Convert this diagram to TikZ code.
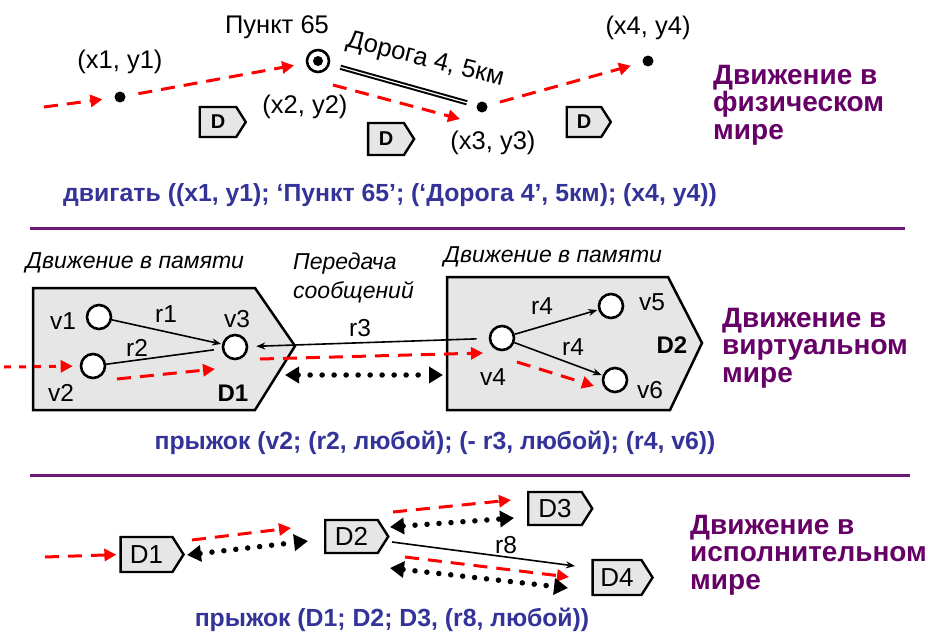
\documentclass[tikz,border=0pt]{standalone}
\usepackage{fontspec}
\setmainfont{Liberation Sans}
\usetikzlibrary{arrows.meta,shapes.symbols}

\definecolor{mvred}{HTML}{FF0000}
\definecolor{mvpurple}{HTML}{660066}
\definecolor{mvblue}{HTML}{333399}
\definecolor{boxgray}{HTML}{E6E6E6}
\definecolor{rulepurple}{HTML}{6A1A74}

\tikzset{
  redpath/.style={draw=mvred, line width=3pt, dash pattern=on 14pt off 9pt,
    -{Triangle[length=12pt,width=12pt]}},
  msgpath/.style={draw=black, line width=5.5pt, line cap=round,
    dash pattern=on 0pt off 12pt,
    {Triangle[length=14pt,width=16pt]}-{Triangle[length=14pt,width=16pt]}},
  thinarrow/.style={draw=black, line width=1.6pt, -{Stealth[length=9pt,width=7pt]}},
  vnode/.style={circle, draw, line width=2.6pt, fill=white, minimum size=24pt, inner sep=0pt},
  dot/.style={circle, fill=black, minimum size=11pt, inner sep=0pt},
  lbl/.style={font=\fontsize{25.5}{28}\selectfont, inner sep=0pt},
  vlbl/.style={font=\fontsize{24.5}{28}\selectfont, inner sep=0pt},
  ilbl/.style={font=\itshape\fontsize{23}{29}\selectfont, inner sep=0pt},
  tagbox/.style={signal, signal to=east, signal pointer angle=115, draw, line width=2.4pt,
    fill=boxgray, inner sep=0pt},
  membox/.style={draw, line width=2.5pt, fill=boxgray, line join=miter},
  world/.style={text=mvpurple, font=\bfseries\fontsize{28}{27.5}\selectfont,
    align=left, anchor=west, inner sep=0pt},
  formula/.style={text=mvblue, font=\bfseries\fontsize{24.8}{28}\selectfont, inner sep=0pt},
  sepline/.style={draw=rulepurple, line width=3pt}
}

\begin{document}
\begin{tikzpicture}[x=1pt,y=-1pt]
\useasboundingbox (0,0) rectangle (928,637);

% ---------------- physical world ----------------
\coordinate (a0) at (44,107);
\node[dot] (x1) at (120,97) {};
\node[vnode, minimum size=22pt] (p65) at (318,61) {};
\node[dot, minimum size=10pt] (p65c) at (318,61) {};
\node[dot] (x3) at (482,107) {};
\node[dot] (x4) at (648,61) {};

\node[lbl] (lx1) at (120,62) {(x1, y1)};
\node[lbl] (lp65) at (277,27) {Пункт 65};
\node[lbl] (lx2) at (305,107) {(x2, y2)};
\node[lbl] (lx3) at (493,143) {(x3, y3)};
\node[lbl] (lx4) at (648,28) {(x4, y4)};

% road between the point and (x3, y3)
\draw[double=white, double distance=1.2pt, line width=2pt, shorten <=11pt, shorten >=10pt]
  (p65) -- (x3);
\node[lbl, rotate=-14] (road) at (425,60) {Дорога 4, 5км};

\draw[redpath, shorten >=12pt] (a0) -- (x1);
\draw[redpath, shorten <=13pt, shorten >=12pt] (x1) -- (p65);
\coordinate (b1) at (333,85);
\coordinate (b2) at (460,119);
\draw[redpath] (b1) -- (b2);
\draw[redpath, shorten <=13pt, shorten >=12pt] (x3) -- (x4);

\node[tagbox, minimum width=46pt, minimum height=30pt, font=\bfseries\fontsize{20}{20}\selectfont]
  (t1) at (218,122) {D};
\node[tagbox, minimum width=46pt, minimum height=32pt, font=\bfseries\fontsize{20}{20}\selectfont]
  (t2) at (386,139) {D};
\node[tagbox, minimum width=44pt, minimum height=30pt, font=\bfseries\fontsize{20}{20}\selectfont]
  (t3) at (584,122) {D};

\node[world] (w1) at (713,105) {Движение в\\физическом\\мире};
\node[formula] (f1) at (390,195)
  {двигать ((x1, y1); ‘Пункт 65’; (‘Дорога 4’, 5км); (x4, y4))};

\draw[sepline] (30,228) -- (905,228);

% ---------------- virtual world ----------------
\draw[membox] (33,288) -- (255,288) -- (295,346) -- (255,410) -- (33,410) -- cycle;
\draw[membox] (447,277) -- (668,277) -- (702,343) -- (670,410) -- (447,410) -- cycle;

\node[ilbl] (m1) at (135,263) {Движение в памяти};
\node[ilbl] (m2) at (553,257) {Движение в памяти};
\node[ilbl, align=left, anchor=west] (msg) at (293,278) {Передача\\сообщений};

\node[vnode] (v1) at (99,317) {};
\node[vnode] (v2) at (93,366) {};
\node[vnode] (v3) at (235,347) {};
\node[vnode] (v4) at (502,338) {};
\node[vnode] (v5) at (611,306) {};
\node[vnode] (v6) at (615,380) {};

\node[vlbl] (lv1) at (63,321) {v1};
\node[vlbl] (lv2) at (61,393) {v2};
\node[vlbl] (lv3) at (237,319) {v3};
\node[vlbl] (lv4) at (493,377) {v4};
\node[vlbl] (lv5) at (652,302) {v5};
\node[vlbl] (lv6) at (650,390) {v6};
\node[vlbl] (lr1) at (166,314) {r1};
\node[vlbl] (lr2) at (137,348) {r2};
\node[vlbl] (lr3) at (360,328) {r3};
\node[vlbl] (lr4a) at (542,306) {r4};
\node[vlbl] (lr4b) at (573,347) {r4};
\node[vlbl, font=\bfseries\fontsize{24}{24}\selectfont] (d1) at (233,393) {D1};
\node[vlbl, font=\bfseries\fontsize{24}{24}\selectfont] (d2) at (672,345) {D2};

\draw[thinarrow, shorten >=1pt] (v1) -- (v3);
\draw[line width=1.6pt, shorten >=8pt] (v2) -- (v3);
\draw[thinarrow, shorten <=12pt, shorten >=8pt] (v4) -- (v3);
\draw[thinarrow, shorten >=1pt] (v4) -- (v5);
\draw[thinarrow, shorten >=1pt] (v4) -- (v6);

\coordinate (c0) at (4,367);
\draw[redpath, dash pattern=on 7pt off 8pt, shorten >=7pt] (c0) -- (v2);
\coordinate (c1) at (117,379);
\coordinate (c2) at (215,369);
\draw[redpath] (c1) -- (c2);
\coordinate (c3) at (260,359);
\coordinate (c4) at (483,353);
\draw[redpath] (c3) -- (c4);
\coordinate (c5) at (517,362);
\coordinate (c6) at (594,386);
\draw[redpath] (c5) -- (c6);
\coordinate (c7) at (285,375);
\coordinate (c8) at (443,375);
\draw[msgpath] (c7) -- (c8);

\node[world] (w2) at (722,348) {Движение в\\виртуальном\\мире};
\node[formula] (f2) at (435,443)
  {прыжок (v2; (r2, любой); (- r3, любой); (r4, v6))};

\draw[sepline] (30,475) -- (910,475);

% ---------------- executive world ----------------
\node[tagbox, minimum width=63pt, minimum height=35pt, font=\fontsize{26}{26}\selectfont]
  (e1) at (146.5,554.5) {D1};
\node[tagbox, minimum width=63pt, minimum height=33pt, font=\fontsize{26}{26}\selectfont]
  (e2) at (351.5,536.5) {D2};
\node[tagbox, minimum width=64pt, minimum height=33pt, font=\fontsize{26}{26}\selectfont]
  (e3) at (555,508.5) {D3};
\node[tagbox, minimum width=60pt, minimum height=35pt, font=\fontsize{26}{26}\selectfont]
  (e4) at (617,577.5) {D4};

\coordinate (g0) at (45,557);
\draw[redpath, shorten >=3pt] (g0) -- (e1.west);
\coordinate (g1) at (192,540);
\coordinate (g2) at (291,528);
\draw[redpath] (g1) -- (g2);
\coordinate (g3) at (187,555);
\coordinate (g4) at (308,541);
\draw[msgpath] (g3) -- (g4);
\coordinate (g5) at (393,512);
\coordinate (g6) at (511,500);
\draw[redpath] (g5) -- (g6);
\coordinate (g7) at (390,527);
\coordinate (g8) at (514,518);
\draw[msgpath] (g7) -- (g8);
\coordinate (g9) at (392,542);
\coordinate (g10) at (575,566);
\draw[thinarrow] (g9) -- (g10);
\node[vlbl] (lr8) at (506,545) {r8};
\coordinate (g11) at (405,557);
\coordinate (g12) at (569,577);
\draw[redpath] (g11) -- (g12);
\coordinate (g13) at (390,568);
\coordinate (g14) at (568,588);
\draw[msgpath] (g13) -- (g14);

\node[world] (w3) at (690,555) {Движение в\\исполнительном\\мире};
\node[formula] (f3) at (392,620) {прыжок (D1; D2; D3, (r8, любой))};

\end{tikzpicture}
\end{document}
